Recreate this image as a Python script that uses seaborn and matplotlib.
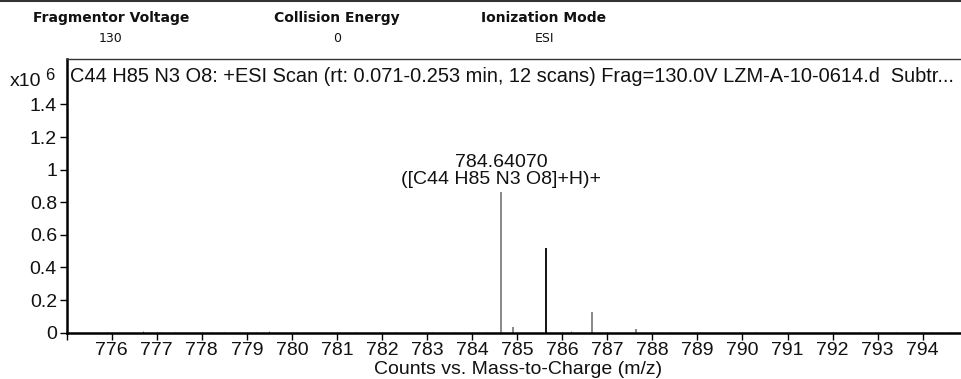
import matplotlib
matplotlib.use("Agg")
import matplotlib.pyplot as plt
import seaborn as sns

# ---- data ----
peak_mz = [784.6407, 784.91, 785.648, 786.655, 787.645]
peak_int = [0.863, 0.033, 0.518, 0.125, 0.022]   # x10^6 counts
peak_colors = ["#7f7f7f", "#7f7f7f", "#000000", "#7f7f7f", "#7f7f7f"]
noise_mz = [775.9, 776.3, 776.7, 777.1, 777.4, 778.2, 778.5, 779.2, 779.5, 780.1,
            780.9, 781.4, 782.3, 783.1, 783.6, 784.3, 786.2, 787.0, 787.3, 788.4,
            789.1, 789.8, 790.3, 791.2, 792.0, 792.6, 793.4, 794.2, 794.6]
noise_int = [0.006, 0.004, 0.008, 0.005, 0.007, 0.005, 0.006, 0.004, 0.009, 0.005,
             0.006, 0.004, 0.005, 0.006, 0.005, 0.007, 0.008, 0.006, 0.005, 0.006,
             0.005, 0.004, 0.006, 0.005, 0.004, 0.006, 0.005, 0.004, 0.006]
x_ticks = list(range(775, 795))
x_tick_labels = [""] + [str(t) for t in range(776, 795)]
y_ticks = [0, 0.2, 0.4, 0.6, 0.8, 1.0, 1.2, 1.4]
y_tick_labels = ["0", "0.2", "0.4", "0.6", "0.8", "1", "1.2", "1.4"]
header_titles = ["Fragmentor Voltage", "Collision Energy", "Ionization Mode"]
header_values = ["130", "0", "ESI"]
header_x = [111, 337, 544]
title = "C44 H85 N3 O8: +ESI Scan (rt: 0.071-0.253 min, 12 scans) Frag=130.0V LZM-A-10-0614.d  Subtr..."
peak_label = "784.64070\n([C44 H85 N3 O8]+H)+"

sns.set_theme(style="white")
plt.rcParams['font.family'] = ['Liberation Sans', 'DejaVu Sans']

W, H = 961, 379
FS = 14
fig = plt.figure(figsize=(W / 100, H / 100), dpi=100)
ax_left, ax_bottom, ax_top = 66.6, 333.3, 59
ax = fig.add_axes([ax_left / W, 1 - ax_bottom / H, 1 - ax_left / W, (ax_bottom - ax_top) / H])

ax.vlines(noise_mz, 0, noise_int, colors="#7f7f7f", linewidth=0.8)
ax.vlines(peak_mz, 0, peak_int, colors=peak_colors, linewidth=1.3)

ax.set_xlim(775.0, 794.85)
ax.set_ylim(-0.004, 1.679)
ax.set_xticks(x_ticks)
ax.set_xticklabels(x_tick_labels)
ax.set_yticks(y_ticks)
ax.set_yticklabels(y_tick_labels)
ax.tick_params(axis="both", direction="out", length=5, width=1, color="black",
               labelsize=FS, labelcolor="#111111", pad=2, bottom=True, left=True)
ax.tick_params(axis="x", pad=1.5)
ax.set_xlabel("Counts vs. Mass-to-Charge (m/z)", fontsize=FS, color="#111111", va="center")
ax_w = W - ax_left
ax.xaxis.set_label_coords((518 - ax_left) / ax_w, -(370 - ax_bottom) / (ax_bottom - ax_top))

for s in ["left", "bottom"]:
    ax.spines[s].set_color("black")
    ax.spines[s].set_linewidth(1.8)
ax.spines["top"].set_color("#333333")
ax.spines["top"].set_linewidth(1.0)
ax.spines["right"].set_visible(False)

fig.text(70 / W, 1 - 77 / H, title, ha="left", va="center", fontsize=14.4, color="#111111")
ax.annotate(peak_label, xy=(peak_mz[0], peak_int[0]), xytext=(0, 3),
            textcoords="offset points", ha="center", va="bottom",
            fontsize=FS, color="#111111", linespacing=1.0)

fig.text(10 / W, 1 - 81 / H, "x10", fontsize=FS, ha="left", va="center", color="#111111")
fig.text(45 / W, 1 - 75 / H, "6", fontsize=12, ha="left", va="center", color="#111111")

for t, v, x in zip(header_titles, header_values, header_x):
    fig.text(x / W, 1 - 18 / H, t, fontsize=10, fontweight="bold", ha="center",
             va="center", family=["DejaVu Sans"], color="#111111")
    fig.text(x / W, 1 - 39 / H, v, fontsize=9, ha="center", va="center",
             family=["DejaVu Sans"], color="#111111")

fig.add_artist(plt.Line2D([0, 1], [1 - 1 / H, 1 - 1 / H], color="#333333", linewidth=1.5))

fig.savefig("out.png", dpi=100)
